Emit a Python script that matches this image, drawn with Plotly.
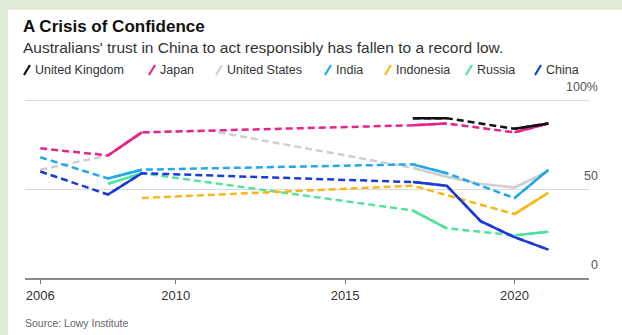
import plotly.graph_objects as go

# Lowy Institute poll: share of Australians who trust each country "a great deal" or "somewhat"
years = [2006, 2008, 2009, 2011, 2017, 2018, 2019, 2020, 2021]

uk = [None, None, None, None, 90, 90, None, 84, 87]
japan = [73, 69, 82, None, 86, 87, None, 82, 87]
united_states = [61, 69, 82, 83, 62, 57, 53, 51, 60]
india = [68, 56, 61, None, 64, 59, None, 45, 61]
indonesia = [None, None, 45, None, 52, None, None, 36, 48]
russia = [None, 53, 59, None, 38, 28, None, 24, 26]
china = [60, 47, 59, None, 54, 52, 32, 23, 16]

names = ["United Kingdom", "Japan", "United States", "India", "Indonesia", "Russia", "China"]
series = [uk, japan, united_states, india, indonesia, russia, china]
colors = ["#111111", "#e5258c", "#cfcfcf", "#22a9ea", "#f4b818", "#4fe39c", "#1b3ad6"]

x_ticks = [2006, 2010, 2015, 2020]
y_ticks = [0, 50, 100]
y_tick_text = ["0", "50", "100%"]

FONT = "Liberation Sans, Arial, sans-serif"

# plot-area geometry in pixels, used to place the header text
W_PX, H_PX = 622, 335
Y_MAX = 116
L, R, B = 25, 589, 278
T = round(B - Y_MAX * 1.78)


def px(x):
    return (x - L) / (R - L)


def py(y):
    return (B - y) / (B - T)


def solid_segments(xs, ys):
    """Keep only stretches of consecutive survey years; break the line elsewhere."""
    out_x, out_y = [], []
    prev = None
    for x, y in zip(xs, ys):
        if y is None:
            continue
        if prev is not None and x - prev != 1:
            out_x.append(None)
            out_y.append(None)
        out_x.append(x)
        out_y.append(y)
        prev = x
    return out_x, out_y


fig = go.Figure()

draw_order = [2, 5, 4, 3, 6, 1, 0]
for i in draw_order:
    xs = [x for x, v in zip(years, series[i]) if v is not None]
    ys = [v for v in series[i] if v is not None]
    # dashed line across gaps between surveys
    fig.add_trace(go.Scatter(
        x=xs, y=ys, mode="lines", name=names[i], showlegend=False,
        line=dict(color=colors[i], width=2.5, dash="7px,4px"), hoverinfo="skip"))
    # solid line where surveys were held in consecutive years
    sx, sy = solid_segments(years, series[i])
    fig.add_trace(go.Scatter(
        x=sx, y=sy, mode="lines", name=names[i], showlegend=False,
        connectgaps=False, line=dict(color=colors[i], width=2.5)))

shapes = [
    # white card on the light-green page
    dict(type="rect", xref="paper", yref="paper",
         x0=px(7), x1=px(W_PX + 20), y0=py(H_PX + 20), y1=py(9),
         fillcolor="white", line=dict(color="#d6dcd0", width=1), layer="below"),
]

annotations = [
    dict(text="<b>A Crisis of Confidence</b>", xref="paper", yref="paper",
         x=px(21), y=py(26), xanchor="left", yanchor="middle", showarrow=False,
         font=dict(family=FONT, size=17, color="#111")),
    dict(text="Australians' trust in China to act responsibly has fallen to a record low.",
         xref="paper", yref="paper", x=px(21), y=py(47), xanchor="left", yanchor="middle",
         showarrow=False, font=dict(family=FONT, size=15.5, color="#333")),
    dict(text="Source: Lowy Institute", xref="paper", yref="paper",
         x=px(23), y=py(323), xanchor="left", yanchor="middle", showarrow=False,
         font=dict(family=FONT, size=10.5, color="#666")),
]

# header key: a coloured slash before each country name
legend_x = [24, 149, 216, 325, 385, 466, 535]
legend_y = 70
for name, c, lx in zip(names, colors, legend_x):
    shapes.append(dict(type="line", xref="paper", yref="paper",
                       x0=px(lx), y0=py(legend_y + 5), x1=px(lx + 6), y1=py(legend_y - 5),
                       line=dict(color=c, width=2.2)))
    annotations.append(dict(text=name, xref="paper", yref="paper",
                            x=px(lx + 9), y=py(legend_y), xanchor="left", yanchor="middle",
                            showarrow=False, font=dict(family=FONT, size=12.5, color="#333")))

fig.update_layout(
    width=W_PX, height=H_PX,
    margin=dict(l=L, r=W_PX - R, t=T, b=H_PX - B),
    paper_bgcolor="#e2edd8",
    plot_bgcolor="rgba(0,0,0,0)",
    showlegend=False,
    shapes=shapes,
    annotations=annotations,
    xaxis=dict(
        range=[2005.55, 2022.2], tickvals=x_ticks, ticks="outside", ticklen=4,
        tickcolor="#777", tickwidth=1, showline=True, linecolor="#8a8a8a", linewidth=2,
        showgrid=False, zeroline=False,
        tickfont=dict(family=FONT, size=13, color="#333")),
    yaxis=dict(
        range=[0, Y_MAX], tickvals=y_ticks, ticktext=y_tick_text, side="right",
        ticklabelposition="inside top", ticklabelstandoff=-12, ticklabelshift=-5,
        showgrid=True, gridcolor="#d9d9d9", gridwidth=1, zeroline=False,
        showline=False, ticks="",
        tickfont=dict(family=FONT, size=12.5, color="#555")),
)

fig.write_html("out.html")
